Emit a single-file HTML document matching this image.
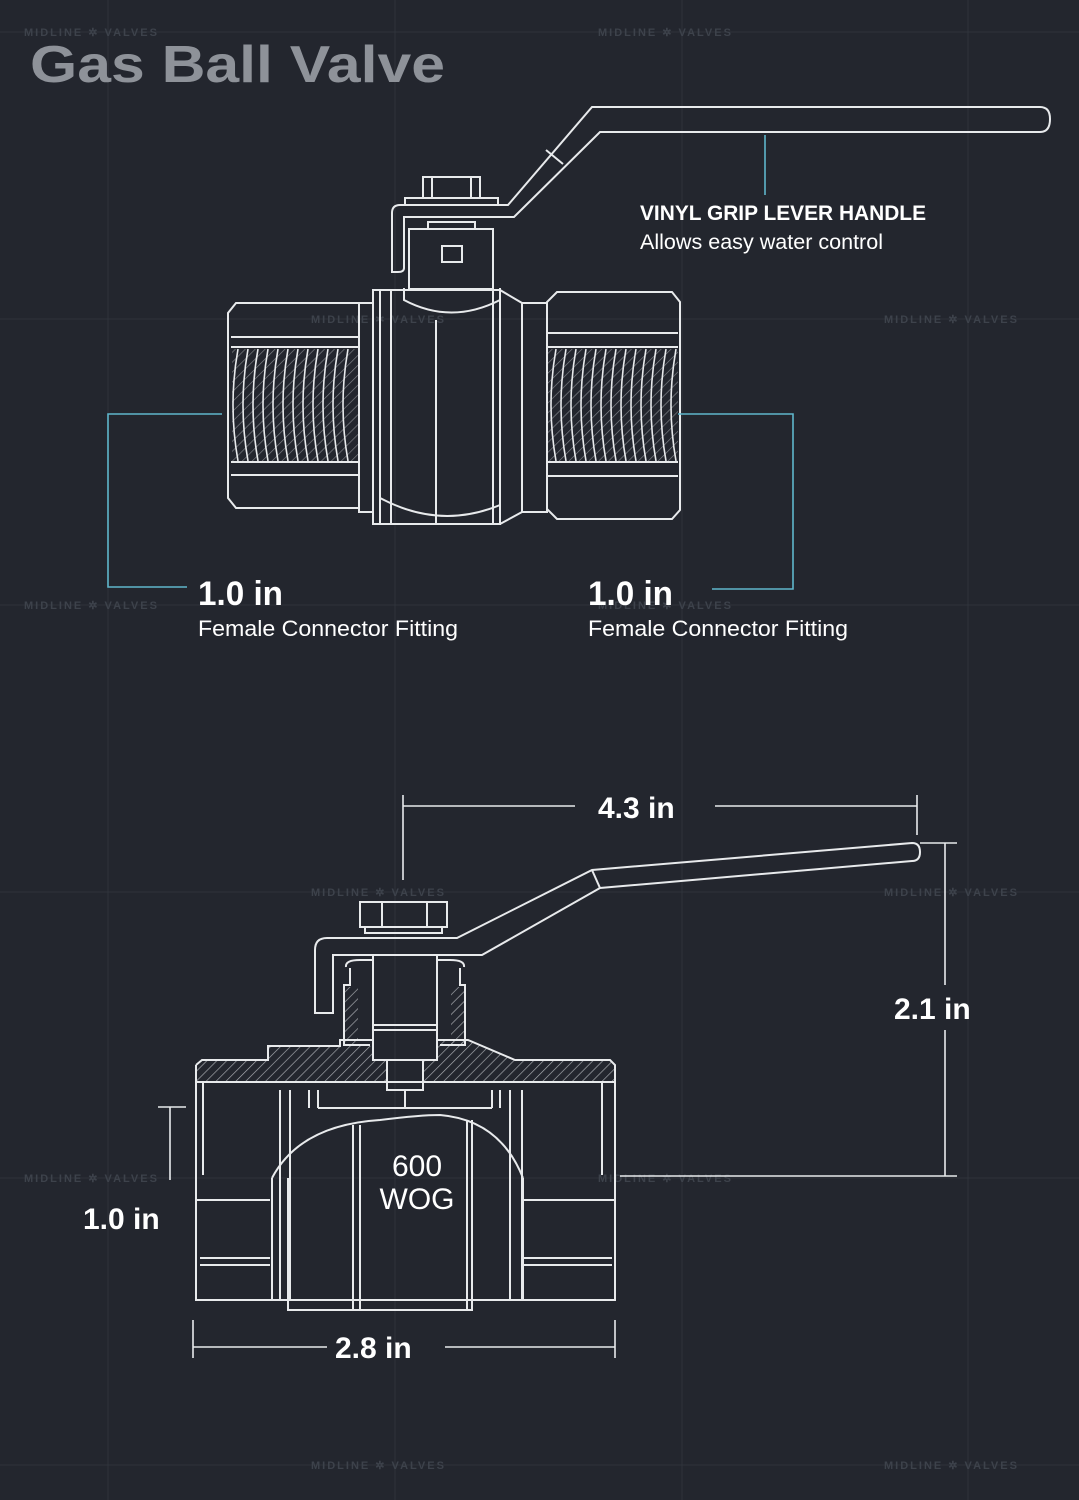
<!DOCTYPE html>
<html><head><meta charset="utf-8"><style>
html,body{margin:0;padding:0;background:#23262e;}
svg{display:block}
text{font-family:"Liberation Sans",sans-serif}
</style></head><body>
<svg width="1079" height="1500" viewBox="0 0 1079 1500" xmlns="http://www.w3.org/2000/svg">
<defs>
<pattern id="hat" width="7" height="7" patternUnits="userSpaceOnUse" patternTransform="rotate(45)">
<line x1="0" y1="0" x2="0" y2="7" stroke="#cfd2d6" stroke-width="1.3"/>
</pattern>
</defs>
<rect width="1079" height="1500" fill="#23262e"/>
<g stroke="#2f333b" stroke-width="1">
<line x1="0" y1="32" x2="1079" y2="32"/><line x1="0" y1="319" x2="1079" y2="319"/>
<line x1="0" y1="605" x2="1079" y2="605"/><line x1="0" y1="892" x2="1079" y2="892"/>
<line x1="0" y1="1178" x2="1079" y2="1178"/><line x1="0" y1="1465" x2="1079" y2="1465"/>
<line x1="108" y1="0" x2="108" y2="1500"/><line x1="395" y1="0" x2="395" y2="1500"/>
<line x1="682" y1="0" x2="682" y2="1500"/><line x1="968" y1="0" x2="968" y2="1500"/>
</g>
<g font-size="11" fill="#3d424b" letter-spacing="2" font-weight="bold">
<text x="24" y="36">MIDLINE ✲ VALVES</text><text x="598" y="36">MIDLINE ✲ VALVES</text>
<text x="311" y="323">MIDLINE ✲ VALVES</text><text x="884" y="323">MIDLINE ✲ VALVES</text>
<text x="24" y="609">MIDLINE ✲ VALVES</text><text x="598" y="609">MIDLINE ✲ VALVES</text>
<text x="311" y="896">MIDLINE ✲ VALVES</text><text x="884" y="896">MIDLINE ✲ VALVES</text>
<text x="24" y="1182">MIDLINE ✲ VALVES</text><text x="598" y="1182">MIDLINE ✲ VALVES</text>
<text x="311" y="1469">MIDLINE ✲ VALVES</text><text x="884" y="1469">MIDLINE ✲ VALVES</text>
</g>
<text x="30" y="82" font-size="52" font-weight="bold" fill="#8e9299" textLength="415" lengthAdjust="spacingAndGlyphs">Gas Ball Valve</text>

<!-- TOP VALVE -->
<g fill="none" stroke="#e8eaec" stroke-width="2">
<path d="M392,272 L392,213 Q392,205 400,205 L508,205 L592,107 L1040,107 Q1050,107 1050,119 Q1050,132 1040,132 L600,132 L514,217 L404,217 L404,268 Q404,272 398,272 Z"/>
<line x1="546" y1="150" x2="563" y2="164"/>
<rect x="423" y="177" width="57" height="21"/><line x1="432" y1="177" x2="432" y2="198"/><line x1="471" y1="177" x2="471" y2="198"/>
<rect x="405" y="198" width="93" height="7"/>
<rect x="428" y="222" width="47" height="7"/>
<rect x="409" y="229" width="84" height="60"/>
<rect x="442" y="246" width="20" height="16"/>
<path d="M404,288 L404,300 Q451,325 500,300 L500,288"/>
<rect x="373" y="290" width="127" height="234"/>
<line x1="380" y1="290" x2="380" y2="524"/><line x1="391" y1="290" x2="391" y2="524"/>
<line x1="436" y1="320" x2="436" y2="524"/><line x1="493" y1="290" x2="493" y2="524"/>
<path d="M380,498 Q440,530 500,505"/>
<path d="M500,290 L522,303 L522,512 L500,524"/>
<rect x="522" y="303" width="25" height="209"/>
<rect x="359" y="303" width="14" height="209"/>
<path d="M236,303 L359,303 L359,508 L236,508 L228,498 L228,313 Z"/>
<line x1="231" y1="337" x2="359" y2="337"/><line x1="231" y1="347" x2="359" y2="347"/>
<line x1="231" y1="462" x2="359" y2="462"/><line x1="231" y1="475" x2="359" y2="475"/>
<path d="M557,292 L672,292 L680,302 L680,510 L672,519 L557,519 L547,509 L547,302 Z"/>
<line x1="547" y1="333" x2="678" y2="333"/><line x1="547" y1="347" x2="678" y2="347"/>
<line x1="547" y1="462" x2="678" y2="462"/><line x1="547" y1="476" x2="678" y2="476"/>
</g>
<rect x="232" y="349" width="126" height="112" fill="url(#hat)" opacity="0.55"/>
<rect x="548" y="349" width="130" height="112" fill="url(#hat)" opacity="0.55"/>
<g fill="none" stroke="#e8eaec" stroke-width="1.6">
<path d="M238,349 Q228,405 238,461 M248,349 Q238,405 248,461 M258,349 Q248,405 258,461 M268,349 Q258,405 268,461 M278,349 Q268,405 278,461 M288,349 Q278,405 288,461 M298,349 Q288,405 298,461 M308,349 Q298,405 308,461 M318,349 Q308,405 318,461 M328,349 Q318,405 328,461 M338,349 Q328,405 338,461 M348,349 Q338,405 348,461"/>
<path d="M556,349 Q546,405 556,461 M566,349 Q556,405 566,461 M576,349 Q566,405 576,461 M586,349 Q576,405 586,461 M596,349 Q586,405 596,461 M606,349 Q596,405 606,461 M616,349 Q606,405 616,461 M626,349 Q616,405 626,461 M636,349 Q626,405 636,461 M646,349 Q636,405 646,461 M656,349 Q646,405 656,461 M666,349 Q656,405 666,461 M676,349 Q666,405 676,461"/>
</g>

<g fill="none" stroke="#5fb6cb" stroke-width="1.6">
<line x1="765" y1="135" x2="765" y2="195"/>
<path d="M222,414 L108,414 L108,587 L187,587"/>
<path d="M678,414 L793,414 L793,589 L712,589"/>
</g>
<text x="640" y="220" font-size="21" font-weight="bold" fill="#fff" textLength="286" lengthAdjust="spacingAndGlyphs">VINYL GRIP LEVER HANDLE</text>
<text x="640" y="249" font-size="21" fill="#fff" textLength="243" lengthAdjust="spacingAndGlyphs">Allows easy water control</text>
<text x="198" y="605" font-size="34" font-weight="bold" fill="#fff" textLength="85" lengthAdjust="spacingAndGlyphs">1.0 in</text>
<text x="198" y="636" font-size="22" fill="#fff" textLength="260" lengthAdjust="spacingAndGlyphs">Female Connector Fitting</text>
<text x="588" y="605" font-size="34" font-weight="bold" fill="#fff" textLength="85" lengthAdjust="spacingAndGlyphs">1.0 in</text>
<text x="588" y="636" font-size="22" fill="#fff" textLength="260" lengthAdjust="spacingAndGlyphs">Female Connector Fitting</text>

<!-- BOTTOM VALVE -->
<g fill="url(#hat)" opacity="0.8">
<path d="M196,1065 L202,1060 L268,1060 L268,1046 L373,1046 L373,1060 L387,1060 L387,1082 L196,1082 Z"/>
<path d="M423,1060 L437,1060 L437,1040 L468,1040 L515,1060 L610,1060 L615,1065 L615,1082 L423,1082 Z"/>
<rect x="344" y="987" width="14" height="58"/><rect x="451" y="987" width="14" height="58"/>
</g>
<g fill="none" stroke="#e8eaec" stroke-width="2">
<path d="M315,1013 L315,950 Q315,938 327,938 L457,938 L592,870 L912,843 Q920,843 920,852 Q920,861 912,861 L600,888 L482,955 L333,955 L333,1013 Z"/>
<line x1="592" y1="870" x2="600" y2="888"/>
<rect x="360" y="902" width="87" height="25"/>
<rect x="382" y="902" width="45" height="25"/>
<rect x="365" y="927" width="77" height="6"/>
<rect x="373" y="955" width="64" height="105"/>
<line x1="373" y1="1025" x2="437" y2="1025"/><line x1="373" y1="1030" x2="437" y2="1030"/>
<rect x="387" y="1060" width="36" height="30"/>
<line x1="405" y1="1090" x2="405" y2="1108"/>
<path d="M350,968 L350,985 L344,985 L344,1045 L370,1045 M460,968 L460,985 L465,985 L465,1045 L440,1045"/>
<path d="M346,967 Q345,960 360,960 L373,960 M464,967 Q465,960 450,960 L437,960"/>
<path d="M196,1065 L202,1060 L268,1060 L268,1046 L340,1046 L340,1040 L373,1040"/>
<path d="M437,1040 L468,1040 L515,1060 L610,1060 L615,1065 L615,1300 L196,1300 L196,1065"/>
<line x1="196" y1="1082" x2="615" y2="1082"/>
<line x1="196" y1="1200" x2="270" y2="1200"/><line x1="523" y1="1200" x2="615" y2="1200"/>
<line x1="200" y1="1258" x2="270" y2="1258"/><line x1="200" y1="1265" x2="270" y2="1265"/>
<line x1="523" y1="1258" x2="612" y2="1258"/><line x1="523" y1="1265" x2="612" y2="1265"/>
<path d="M203,1082 L203,1175 M602,1082 L602,1175"/>
<path d="M280,1090 L280,1300 M290,1090 L290,1300 M510,1090 L510,1300 M522,1090 L522,1300"/>
<path d="M309,1090 L309,1108 M318,1090 L318,1108 M492,1090 L492,1108 M500,1090 L500,1108"/>
<line x1="318" y1="1108" x2="492" y2="1108"/>
<path d="M272,1178 Q300,1125 380,1120 Q420,1115 440,1115 Q500,1120 523,1178"/>
<path d="M272,1178 L272,1300 M523,1178 L523,1300"/>
<path d="M288,1178 L288,1310 L353,1310 L353,1125 M360,1125 L360,1310 M467,1120 L467,1310 L472,1310 L472,1120"/>
<line x1="300" y1="1310" x2="470" y2="1310"/>
</g>
<text x="417" y="1176" text-anchor="middle" font-size="30" fill="#fff">600</text>
<text x="417" y="1209" text-anchor="middle" font-size="30" fill="#fff">WOG</text>

<g fill="none" stroke="#e8eaec" stroke-width="1.6">
<line x1="403" y1="806" x2="575" y2="806"/><line x1="715" y1="806" x2="917" y2="806"/>
<line x1="403" y1="795" x2="403" y2="880"/><line x1="917" y1="795" x2="917" y2="835"/>
<line x1="945" y1="843" x2="945" y2="985"/><line x1="945" y1="1030" x2="945" y2="1176"/>
<line x1="920" y1="843" x2="957" y2="843"/><line x1="620" y1="1176" x2="957" y2="1176"/>
<line x1="170" y1="1107" x2="170" y2="1180"/><line x1="158" y1="1107" x2="186" y2="1107"/>
<line x1="193" y1="1347" x2="327" y2="1347"/><line x1="445" y1="1347" x2="615" y2="1347"/>
<line x1="193" y1="1320" x2="193" y2="1358"/><line x1="615" y1="1320" x2="615" y2="1358"/>
</g>
<g font-size="30" font-weight="bold" fill="#fff">
<text x="598" y="818">4.3 in</text>
<text x="894" y="1019">2.1 in</text>
<text x="83" y="1229">1.0 in</text>
<text x="335" y="1358">2.8 in</text>
</g>
</svg>
</body></html>
